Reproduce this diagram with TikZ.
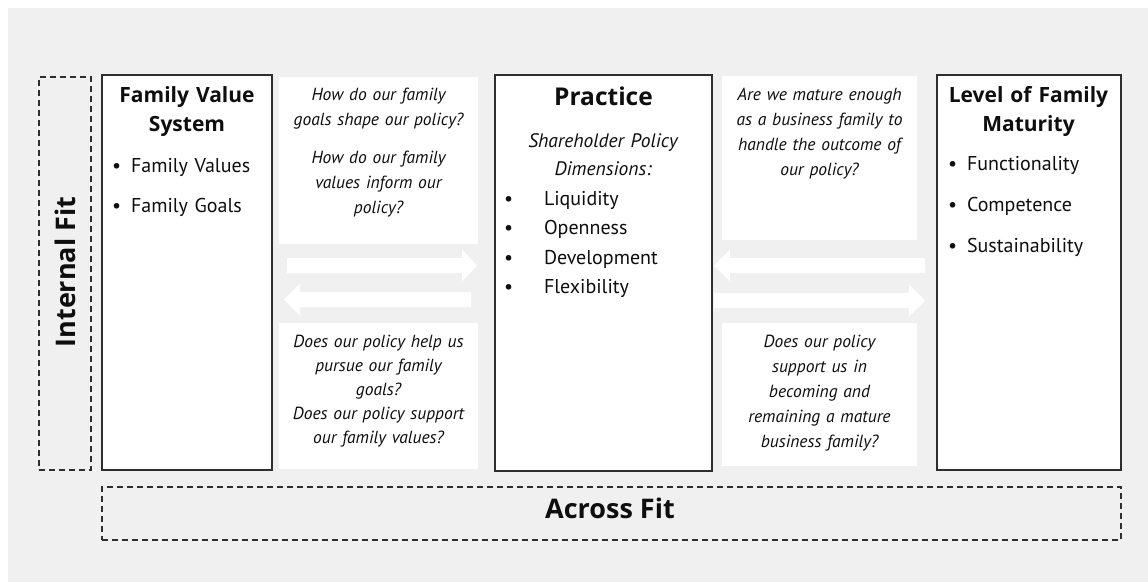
\documentclass[tikz,border=0pt]{standalone}
\usepackage{fontspec}
\setmainfont{PT Sans}
\newfontfamily\headfont{Open Sans}
\usetikzlibrary{calc}
\definecolor{panelgray}{HTML}{F0F0F0}
\definecolor{inkline}{HTML}{2E2E2E}
\definecolor{inktext}{HTML}{0E0E0E}
\newcommand\bulletmark[1]{\makebox[#1][l]{\textbullet}}
% white block arrow: start point, tip point, signed head length
\newcommand\BlockArrow[3]{%
  \fill[white] ($(#1)+(0,-7.5)$) -- ($(#2)+(#3,-7.5)$) -- ($(#2)+(#3,-16)$) -- (#2)
    -- ($(#2)+(#3,16)$) -- ($(#2)+(#3,7.5)$) -- ($(#1)+(0,7.5)$) -- cycle;}
\begin{document}
\begin{tikzpicture}[x=1pt,y=-1pt,
  every node/.style={inner sep=0pt, outer sep=0pt, text=inktext},
  pillar/.style={draw=inkline, line width=1.4pt, fill=white},
  fitframe/.style={draw=inkline, line width=1.1pt, dash pattern=on 6pt off 4pt},
  qpanel/.style={fill=white},
  qtext/.style={font=\fontsize{17.5}{25}\selectfont\itshape, align=center, text width=195pt, anchor=base},
  headtext/.style={font=\headfont\fontsize{21}{29}\selectfont\bfseries, align=center, text width=180pt, anchor=base},
  listtext/.style={align=left, text width=175pt, anchor=base west},
  fitlabel/.style={font=\headfont\fontsize{27}{30}\selectfont\bfseries}
]
\useasboundingbox (0,0) rectangle (1148,582);
\fill[white] (0,0) rectangle (1148,582);
\fill[panelgray] (8,8) rectangle (1148,582);

% fit frames
\node[fitframe, minimum width=52pt, minimum height=393pt] (intfit) at (65,273.5) {};
\node[fitframe, minimum width=1019pt, minimum height=53pt] (across) at (611.5,513.5) {};

% the three pillars
\node[pillar, minimum width=170pt, minimum height=395pt] (famA) at (187,272.5) {};
\node[pillar, minimum width=217pt, minimum height=396pt] (prac) at (603.5,273) {};
\node[pillar, minimum width=184pt, minimum height=395pt] (lvl) at (1029,272.5) {};

% question panels
\node[qpanel, minimum width=199pt, minimum height=167pt] (qUL) at (378.5,160.5) {};
\node[qpanel, minimum width=199pt, minimum height=146pt] (qLL) at (378.5,396) {};
\node[qpanel, minimum width=195pt, minimum height=164pt] (qUR) at (819.5,158) {};
\node[qpanel, minimum width=195pt, minimum height=143pt] (qLR) at (819.5,394.5) {};

% arrow end points
\coordinate (aLrs) at (287,265.5);
\coordinate (aLrt) at (477,265.5);
\coordinate (aLls) at (471,299.5);
\coordinate (aLlt) at (284,299.5);
\coordinate (aRls) at (925,265.5);
\coordinate (aRlt) at (714,265.5);
\coordinate (aRrs) at (714,300.5);
\coordinate (aRrt) at (925,300.5);
\BlockArrow{aLrs}{aLrt}{-15}
\BlockArrow{aLls}{aLlt}{16}
\BlockArrow{aRls}{aRlt}{16}
\BlockArrow{aRrs}{aRrt}{-16}

% family value system
\node[headtext] (famTitle) at (187,102) {Family Value\\System};
\node[listtext, font=\fontsize{20}{40}\selectfont] (famList) at (112,172)
  {\bulletmark{19pt}Family Values\\\bulletmark{19pt}Family Goals};

% practice
\node[font=\headfont\fontsize{24.5}{30}\selectfont\bfseries, anchor=base] (pracTitle) at (603.5,105) {Practice};
\node[font=\fontsize{19.5}{28}\selectfont\itshape, align=center, text width=210pt, anchor=base]
  (pracSub) at (603,147) {Shareholder Policy\\Dimensions:};
\node[listtext, font=\fontsize{20}{29.5}\selectfont] (pracList) at (504,205)
  {\bulletmark{40pt}Liquidity\\\bulletmark{40pt}Openness\\\bulletmark{40pt}Development\\\bulletmark{40pt}Flexibility};

% level of family maturity
\node[headtext] (lvlTitle) at (1028.5,102) {Level of Family\\Maturity};
\node[listtext, font=\fontsize{20}{41}\selectfont] (lvlList) at (948,170)
  {\bulletmark{19pt}Functionality\\\bulletmark{19pt}Competence\\\bulletmark{19pt}Sustainability};

% questions
\node[qtext] (tUL) at (378.5,100)
  {How do our family\\goals shape our policy?\\[13pt]How do our family\\values inform our\\policy?};
\node[qtext, font=\fontsize{17.5}{24}\selectfont\itshape] (tLL) at (378.5,347)
  {Does our policy help us\\pursue our family\\goals?\\Does our policy support\\our family values?};
\node[qtext] (tUR) at (819.5,100)
  {Are we mature enough\\as a business family to\\handle the outcome of\\our policy?};
\node[qtext] (tLR) at (819.5,347)
  {Does our policy\\support us in\\becoming and\\remaining a mature\\business family?};

% fit labels
\node[fitlabel, rotate=90] (intLabel) at (65,272) {Internal Fit};
\node[fitlabel, anchor=base] (acrossLabel) at (610,518) {Across Fit};
\end{tikzpicture}
\end{document}
